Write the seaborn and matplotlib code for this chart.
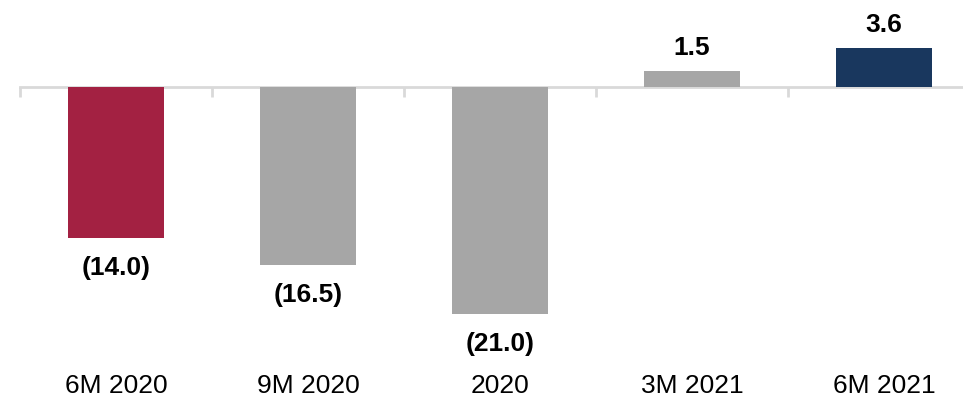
import matplotlib
matplotlib.use("Agg")
import matplotlib.pyplot as plt
import seaborn as sns
import pandas as pd

# Period results
periods = ["6M 2020", "9M 2020", "2020", "3M 2021", "6M 2021"]
values = [-14.0, -16.5, -21.0, 1.5, 3.6]
labels = ["(14.0)", "(16.5)", "(21.0)", "1.5", "3.6"]
colors = ["#A32142", "#A6A6A6", "#A6A6A6", "#A6A6A6", "#19375E"]

sns.set_theme(style="white")
plt.rcParams["font.family"] = ["Liberation Sans", "DejaVu Sans"]

df = pd.DataFrame({"period": periods, "value": values})

fig = plt.figure(figsize=(9.63, 3.99), dpi=100)
ax = fig.add_axes([0, 0, 1, 1])

sns.barplot(data=df, x="period", y="value", hue="period", palette=colors,
            width=0.5, dodge=False, legend=False, saturation=1, ax=ax,
            zorder=3, linewidth=0)

for s in ["top", "right", "left"]:
    ax.spines[s].set_visible(False)
ax.spines["bottom"].set_position(("data", 0))
ax.spines["bottom"].set_bounds(-0.5, 4.5)
ax.spines["bottom"].set_color("#D9D9D9")
ax.spines["bottom"].set_linewidth(2)
ax.spines["bottom"].set_zorder(2)

# Tick marks sit on the category boundaries
ax.set_xticks([-0.5, 0.5, 1.5, 2.5, 3.5, 4.5])
ax.set_xticklabels([])
ax.tick_params(axis="x", bottom=True, direction="out", length=7, width=2,
               color="#D9D9D9")
ax.set_yticks([])
ax.set_xlabel("")
ax.set_ylabel("")

# Limits set after the ticks so they are not widened again
ax.set_xlim(-0.604, 4.412)
ax.set_ylim(-28.9, 8.06)

# Value labels above positive bars, below negative bars
for i, (v, lab) in enumerate(zip(values, labels)):
    off = 23 if v >= 0 else -30
    ax.annotate(lab, xy=(i, v), xytext=(0, off * 0.72), textcoords="offset points",
                ha="center", va="center", fontsize=19, fontweight="bold",
                color="black")

# Category names along the bottom
for i, p in enumerate(periods):
    ax.text(i, -27.7, p, ha="center", va="center", fontsize=19, color="black")

fig.savefig("out.png", dpi=100)
